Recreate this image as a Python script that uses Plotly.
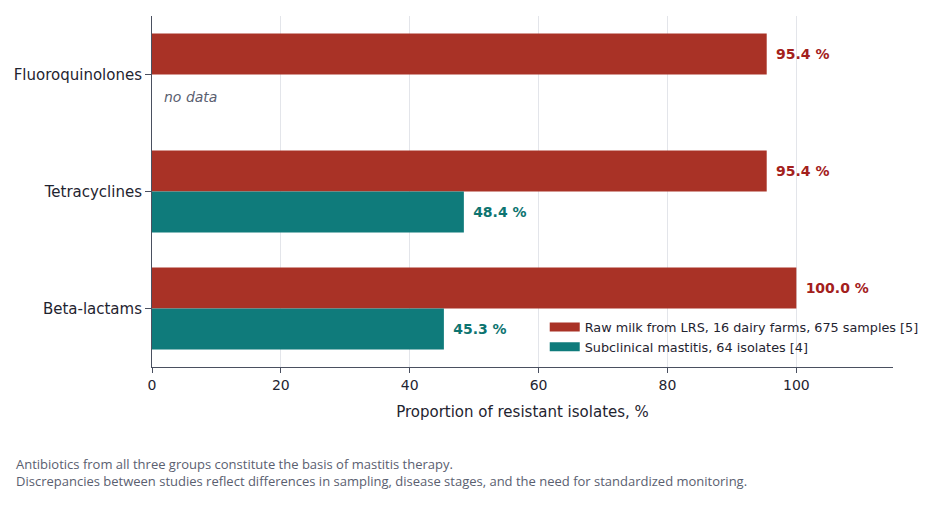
import plotly.graph_objects as go

categories = ["Fluoroquinolones", "Tetracyclines", "Beta-lactams"]
raw_milk = [95.4, 95.4, 100.0]
mastitis = [None, 48.4, 45.3]
raw_name = "Raw milk from LRS, 16 dairy farms, 675 samples [5]"
mast_name = "Subclinical mastitis, 64 isolates [4]"
x_ticks = [0, 20, 40, 60, 80, 100]
footer = ["Antibiotics from all three groups constitute the basis of mastitis therapy.",
          "Discrepancies between studies reflect differences in sampling, disease stages, and the need for standardized monitoring."]

RED = "#a93226"
TEAL = "#0f7b7b"
FONT = "DejaVu Sans, Verdana, sans-serif"
PAD = "\u00a0\u200a"

def fmt(v):
    return "" if v is None else f"{PAD}{v:.1f} %"

fig = go.Figure()
fig.add_trace(go.Bar(
    y=categories, x=raw_milk, orientation="h", name=raw_name, showlegend=False,
    marker=dict(color=RED, line=dict(width=0)),
    text=[fmt(v) for v in raw_milk], textposition="outside",
    textfont=dict(family=FONT, size=14, color="#a3201c", weight="bold"),
    cliponaxis=False,
))
fig.add_trace(go.Bar(
    y=categories, x=mastitis, orientation="h", name=mast_name, showlegend=False,
    marker=dict(color=TEAL, line=dict(width=0)),
    text=[fmt(v) for v in mastitis], textposition="outside",
    textfont=dict(family=FONT, size=14, color="#0d7470", weight="bold"),
    cliponaxis=False,
))
# legend entries (wide rectangular swatches like the reference)
for name, color in [(raw_name, RED), (mast_name, TEAL)]:
    fig.add_trace(go.Scatter(
        x=[None], y=[None], mode="lines", name=name,
        line=dict(color=color, width=9), showlegend=True, hoverinfo="skip",
    ))

fig.add_annotation(
    x=1.6, y=0.19, xref="x", yref="y", text="<i>no data</i>", showarrow=False,
    xanchor="left", yanchor="middle",
    font=dict(family=FONT, size=14, color="#5a6070"),
)

fig.add_annotation(
    x=-0.1862, y=-0.244, xref="paper", yref="paper", xanchor="left", yanchor="top",
    text="<br>".join(footer), align="left", showarrow=False,
    font=dict(family="Open Sans", size=13, color="#5a6070"),
)

fig.update_layout(
    width=936, height=521,
    margin=dict(l=152, r=43, t=16, b=154, autoexpand=False),
    paper_bgcolor="white", plot_bgcolor="white",
    barmode="group", bargap=0.3, bargroupgap=0,
    font=dict(family=FONT, size=14, color="#1f2430"),
    showlegend=True,
    legend=dict(
        x=0.530, y=0.085, xanchor="left", yanchor="middle",
        bgcolor="rgba(255,255,255,0)", borderwidth=0,
        font=dict(family=FONT, size=12.8, color="#1f2430"),
        traceorder="normal", itemwidth=30,
    ),
    xaxis=dict(
        range=[0, 115], tickvals=x_ticks, ticktext=[str(t) for t in x_ticks],
        showgrid=True, gridcolor="#e3e5ea", gridwidth=1,
        showline=True, linecolor="#4a5060", linewidth=1,
        ticks="outside", ticklen=5, tickcolor="#4a5060",
        zeroline=False,
        tickfont=dict(family=FONT, size=14, color="#1f2430"),
        title=dict(text="Proportion of resistant isolates, %", standoff=14,
                   font=dict(family=FONT, size=15, color="#1f2430")),
    ),
    yaxis=dict(
        categoryorder="array", categoryarray=categories, autorange="reversed",
        showgrid=False, showline=True, linecolor="#4a5060", linewidth=1,
        ticks="outside", ticklen=6, tickcolor="#4a5060",
        tickfont=dict(family=FONT, size=15, color="#1f2430"),
    ),
)

fig.write_html("out.html")
